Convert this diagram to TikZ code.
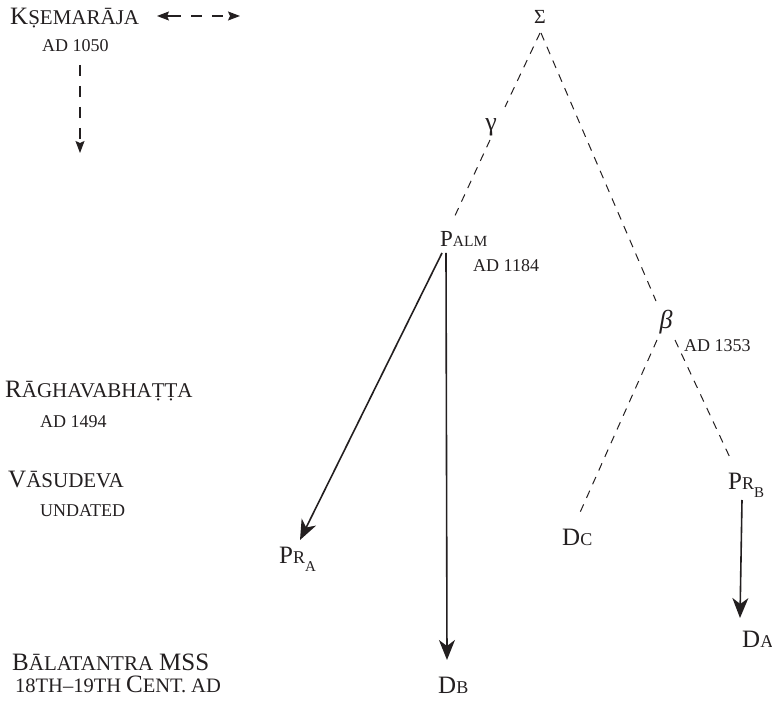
\documentclass[tikz,border=0pt]{standalone}
\usepackage{fontspec}
\setmainfont{Liberation Serif}
\usetikzlibrary{arrows.meta,calc}
\definecolor{ink}{HTML}{231F20}
\newcommand{\Bg}[1]{{\fontsize{25}{25}\selectfont #1}}
\newcommand{\Sm}[1]{{\fontsize{21}{21}\selectfont #1}}
\newcommand{\Dt}[1]{{\fontsize{18}{18}\selectfont #1}}
\newcommand{\Ct}[1]{{\fontsize{20.5}{20.5}\selectfont #1}}
\newcommand{\Sb}[1]{\raisebox{-8pt}{\fontsize{15}{15}\selectfont #1}}
\begin{document}
\begin{tikzpicture}[x=1pt,y=-1pt,
  lbl/.style={anchor=base west,inner sep=0pt,text=ink},
  greek/.style={inner sep=0pt,text=ink},
  tree/.style={draw=ink,line width=1pt,dash pattern=on 8pt off 7pt},
  darrow/.style={draw=ink,line width=1.2pt,dash pattern=on 11pt off 10pt},
  dtip/.style={-{Stealth[length=12pt,width=9pt,inset=2pt]}},
  sarrow/.style={draw=ink,line width=1.6pt,-{Stealth[length=20pt,width=16pt,inset=6pt]}}]
\useasboundingbox (0,0) rectangle (772,703);
% left column
\node[lbl] (ksem) at (10,25) {\Bg{K}\Sm{ṢEMARĀJA}};
\node[lbl] (ad1050) at (42,52) {\Dt{AD 1050}};
\node[lbl] (ragh) at (5,398) {\Bg{R}\Sm{ĀGHAVABHAṬṬA}};
\node[lbl] (ad1494) at (40,428) {\Dt{AD 1494}};
\node[lbl] (vasu) at (8,488) {\Bg{V}\Sm{ĀSUDEVA}};
\node[lbl] (undated) at (40,517) {\Dt{UNDATED}};
\node[lbl] (bala) at (12,670) {\Bg{B}\Sm{ĀLATANTRA}\hspace{6pt}\Bg{MSS}};
\node[lbl] (cent) at (15,692) {\Ct{18TH–19TH}\hspace{5pt}\Bg{C}\Ct{ENT.}\hspace{5pt}\Ct{AD}};
\coordinate (kend) at (240,16);
\coordinate (dend) at (80,153);
% tree
\node[greek,anchor=base] (sigma) at (540,24) {\fontsize{20}{20}\selectfont Σ};
\node[greek] (gamma) at (491,127) {\fontsize{26}{26}\selectfont γ};
\node[lbl] (palm) at (440,247) {{\fontsize{23}{23}\selectfont P}{\fontsize{15.5}{15.5}\selectfont ALM}};
\node[lbl] (ad1184) at (473,272) {\Dt{AD 1184}};
\node[greek] (beta) at (666,322) {\fontsize{26}{26}\selectfont\itshape β};
\node[lbl] (ad1353) at (684,352) {\Dt{AD 1353}};
\node[lbl] (pra) at (279,563) {\Bg{P}\Dt{R}\Sb{A}};
\node[lbl] (db) at (438,693) {\Bg{D}\Dt{B}};
\node[lbl] (dc) at (562,545) {\Bg{D}\Dt{C}};
\node[lbl] (prb) at (728,490) {\Bg{P}\Dt{R}\Sb{B}};
\node[lbl] (da) at (742,647) {\Bg{D}\Dt{A}};
% dashed arrows at left
\draw[darrow,dtip] ($(ksem.base west)+(160,-9)$) -- ($(ksem.base west)+(147,-9)$);
\draw[darrow,dtip] ($(ksem.base west)+(160,-9)$) -- (kend);
\draw[darrow,dtip] ($(ad1050.base west)+(38,13)$) -- (dend);
% dashed tree lines
\draw[tree] ($(sigma.base)+(0,9)$) -- ($(gamma)+(14,-20)$);
\draw[tree] ($(gamma)+(-1,13)$) -- ($(palm.base west)+(13,-27)$);
\draw[tree] ($(sigma.base)+(1,9)$) -- ($(beta)+(-10,-21)$);
\draw[tree] ($(beta)+(-9,18)$) -- ($(dc.base west)+(16,-28)$);
\draw[tree] ($(beta)+(9,18)$) -- ($(prb.base west)+(4,-28)$);
% solid arrows
\draw[sarrow] ($(palm.base west)+(2,6)$) -- ($(pra.base west)+(21,-23)$);
\draw[sarrow] ($(palm.base west)+(6,6)$) -- ($(db.base west)+(9,-33)$);
\draw[sarrow] ($(prb.base west)+(14,10)$) -- ($(da.base west)+(-2,-29)$);
\end{tikzpicture}
\end{document}
